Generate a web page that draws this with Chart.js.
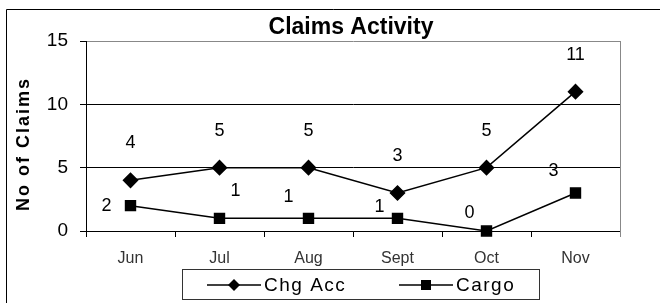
<!DOCTYPE html>
<html>
<head>
<meta charset="utf-8">
<script src="https://cdn.jsdelivr.net/npm/chart.js@4"></script>
<style>
    html, body { margin: 0; padding: 0; background: #fff; }
    #wrap { width: 660px; height: 303px; }
</style>
</head>
<body>
<div id="wrap"><canvas id="chart" width="660" height="303"></canvas></div>
<script>
// Data
const months = ['Jun', 'Jul', 'Aug', 'Sept', 'Oct', 'Nov']
const chgAcc = [4, 5, 5, 3, 5, 11]
const cargo = [2, 1, 1, 1, 0, 3]
const yTicks = [0, 5, 10, 15]

const FONT = '"Liberation Sans", Arial, sans-serif'

// Where each value label sits relative to its point (Excel put them about)
const labelOffsets = [
    [[0, -37], [0, -37], [0, -37], [0, -37], [0, -37], [0, -37]],
    [[-24, 0], [16, -27], [-20, -21], [-18, -11], [-17, -18], [-22, -22]]
]

// Draws the frame, title, axis title, value labels and the legend box
const decorPlugin = {
    id: 'decor',
    afterDraw (chart) {
        const ctx = chart.ctx
        const area = chart.chartArea
        ctx.save()

        // outer frame (right and bottom fall off the picture)
        ctx.strokeStyle = '#000'
        ctx.lineWidth = 1
        ctx.beginPath()
        ctx.moveTo(6.5, 303)
        ctx.lineTo(6.5, 9.5)
        ctx.lineTo(660, 9.5)
        ctx.stroke()

        // plot right border
        ctx.strokeStyle = '#888'
        ctx.beginPath()
        ctx.moveTo(area.right + 0.5, area.top)
        ctx.lineTo(area.right + 0.5, area.bottom + 6)
        ctx.stroke()

        // title
        ctx.fillStyle = '#000'
        ctx.font = 'bold 23px ' + FONT
        ctx.textAlign = 'center'
        ctx.textBaseline = 'middle'
        ctx.fillText('Claims Activity', 351, 28)

        // y axis title
        ctx.save()
        ctx.translate(24, 144)
        ctx.rotate(-Math.PI / 2)
        ctx.font = 'bold 18px ' + FONT
        ctx.letterSpacing = '2px'
        ctx.fillText('No of Claims', 0, 0)
        ctx.restore()

        // value labels
        ctx.font = '18px ' + FONT
        chart.data.datasets.forEach((ds, i) => {
            const meta = chart.getDatasetMeta(i)
            meta.data.forEach((pt, j) => {
                const off = labelOffsets[i][j]
                ctx.fillText(String(ds.data[j]), pt.x + off[0], pt.y + off[1])
            })
        })

        // legend
        ctx.strokeStyle = '#333'
        ctx.lineWidth = 1
        ctx.strokeRect(182.5, 269.5, 357, 30)
        const items = [
            { label: chart.data.datasets[0].label, x: 207, style: 'diamond' },
            { label: chart.data.datasets[1].label, x: 399, style: 'square' }
        ]
        const ly = 285
        items.forEach(it => {
            ctx.strokeStyle = '#000'
            ctx.lineWidth = 1.5
            ctx.beginPath()
            ctx.moveTo(it.x, ly)
            ctx.lineTo(it.x + 54, ly)
            ctx.stroke()
            ctx.fillStyle = '#000'
            const cx = it.x + 27
            if (it.style === 'diamond') {
                ctx.beginPath()
                ctx.moveTo(cx, ly - 6)
                ctx.lineTo(cx + 6, ly)
                ctx.lineTo(cx, ly + 6)
                ctx.lineTo(cx - 6, ly)
                ctx.closePath()
                ctx.fill()
            } else {
                ctx.fillRect(cx - 5, ly - 5, 10, 10)
            }
            ctx.font = '19px ' + FONT
            ctx.textAlign = 'left'
            ctx.letterSpacing = '1.5px'
            ctx.fillText(it.label, it.x + 57, ly + 1)
            ctx.letterSpacing = '0px'
        })

        ctx.restore()
    }
}

new Chart(document.getElementById('chart'), {
    type: 'line',
    data: {
        labels: months,
        datasets: [
            {
                label: 'Chg Acc',
                data: chgAcc,
                borderColor: '#000',
                backgroundColor: '#000',
                borderWidth: 1.5,
                pointStyle: 'rectRot',
                pointRadius: 7,
                pointHoverRadius: 7,
                tension: 0
            },
            {
                label: 'Cargo',
                data: cargo,
                borderColor: '#000',
                backgroundColor: '#000',
                borderWidth: 1.5,
                pointStyle: 'rect',
                pointRadius: 7,
                pointHoverRadius: 7,
                tension: 0
            }
        ]
    },
    options: {
        responsive: false,
        animation: false,
        events: [],
        clip: false,
        layout: { padding: { left: 0, top: 41, right: 40, bottom: 0 } },
        plugins: {
            legend: { display: false },
            title: { display: false },
            tooltip: { enabled: false }
        },
        scales: {
            x: {
                offset: true,
                grid: {
                    offset: true,
                    drawOnChartArea: false,
                    color: '#000',
                    tickLength: 6
                },
                border: { color: '#000', width: 1 },
                ticks: {
                    color: '#333',
                    font: { family: FONT, size: 16 },
                    padding: 12
                },
                afterFit (scale) { scale.height = 72 }
            },
            y: {
                min: 0,
                max: 15,
                afterBuildTicks (scale) {
                    scale.ticks = yTicks.map(v => ({ value: v }))
                },
                grid: {
                    color: ctx => (ctx.tick && ctx.tick.value === 15 ? '#888' : '#000'),
                    tickColor: '#000',
                    tickLength: 6,
                    lineWidth: 1
                },
                border: { color: '#000', width: 1 },
                ticks: {
                    color: '#000',
                    font: { family: FONT, size: 19 },
                    padding: 12
                },
                afterFit (scale) { scale.width = 86 }
            }
        }
    },
    plugins: [decorPlugin]
})
</script>
</body>
</html>
